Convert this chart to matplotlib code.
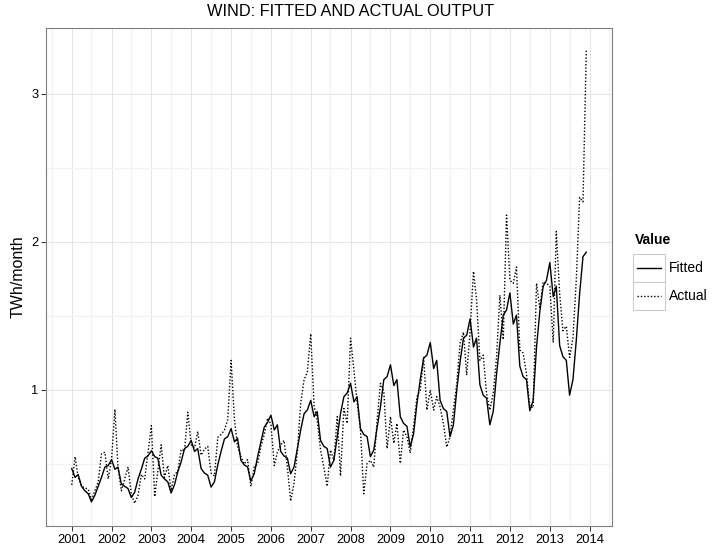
import numpy as np
import pandas as pd
import matplotlib
matplotlib.use('Agg')
import matplotlib.pyplot as plt
import matplotlib.dates as mdates
from matplotlib.ticker import MultipleLocator, FixedLocator
from matplotlib.patches import Rectangle
from matplotlib.lines import Line2D

plt.rcParams['font.family'] = ['Liberation Sans', 'DejaVu Sans']

# monthly wind output, Jan 2001 - Dec 2013 (TWh/month)
months = pd.date_range('2001-01-01', '2013-12-01', freq='MS')

fitted = [
    0.47, 0.41, 0.43, 0.35, 0.32, 0.30, 0.245, 0.29, 0.35, 0.41, 0.48, 0.49,      # 2001
    0.53, 0.465, 0.48, 0.365, 0.35, 0.335, 0.275, 0.31, 0.40, 0.465, 0.54, 0.555,  # 2002
    0.59, 0.55, 0.54, 0.425, 0.40, 0.38, 0.305, 0.36, 0.45, 0.515, 0.605, 0.62,    # 2003
    0.66, 0.585, 0.605, 0.47, 0.44, 0.425, 0.345, 0.38, 0.495, 0.585, 0.67, 0.685, # 2004
    0.74, 0.65, 0.675, 0.525, 0.495, 0.48, 0.385, 0.435, 0.55, 0.65, 0.75, 0.78,   # 2005
    0.83, 0.73, 0.765, 0.585, 0.555, 0.54, 0.435, 0.48, 0.605, 0.73, 0.84, 0.865,  # 2006
    0.93, 0.82, 0.855, 0.66, 0.62, 0.605, 0.48, 0.525, 0.685, 0.84, 0.955, 0.98,   # 2007
    1.045, 0.92, 0.955, 0.74, 0.70, 0.685, 0.55, 0.595, 0.75, 0.885, 1.07, 1.09,   # 2008
    1.17, 1.03, 1.07, 0.82, 0.775, 0.755, 0.615, 0.705, 0.91, 1.07, 1.215, 1.235,  # 2009
    1.32, 1.145, 1.20, 0.93, 0.875, 0.855, 0.685, 0.765, 1.00, 1.19, 1.35, 1.37,   # 2010
    1.48, 1.29, 1.35, 1.035, 0.965, 0.945, 0.765, 0.855, 1.11, 1.315, 1.505, 1.54, # 2011
    1.655, 1.445, 1.505, 1.16, 1.09, 1.07, 0.86, 0.93, 1.29, 1.53, 1.70, 1.74,     # 2012
    1.86, 1.63, 1.70, 1.30, 1.225, 1.20, 0.965, 1.07, 1.34, 1.65, 1.90, 1.93,      # 2013
]

actual = [
    0.36, 0.55, 0.41, 0.35, 0.34, 0.33, 0.26, 0.32, 0.38, 0.57, 0.58, 0.40,
    0.53, 0.87, 0.48, 0.32, 0.40, 0.48, 0.30, 0.235, 0.29, 0.43, 0.40, 0.58,
    0.76, 0.28, 0.45, 0.63, 0.41, 0.49, 0.32, 0.43, 0.45, 0.60, 0.59, 0.85,
    0.63, 0.61, 0.72, 0.56, 0.60, 0.62, 0.44, 0.42, 0.68, 0.70, 0.73, 0.80,
    1.20, 0.80, 0.62, 0.55, 0.50, 0.53, 0.35, 0.48, 0.50, 0.62, 0.70, 0.81,
    0.77, 0.49, 0.58, 0.63, 0.66, 0.48, 0.25, 0.37, 0.59, 0.91, 1.07, 1.12,
    1.38, 0.89, 0.80, 0.595, 0.48, 0.35, 0.595, 0.525, 0.82, 0.42, 0.875, 0.775,
    1.35, 1.135, 0.92, 0.73, 0.30, 0.505, 0.525, 0.48, 0.80, 1.045, 0.99, 0.605,
    0.82, 0.64, 0.775, 0.505, 0.73, 0.685, 0.575, 0.755, 0.955, 1.00, 1.22, 0.865,
    1.00, 0.865, 0.955, 0.885, 0.775, 0.615, 0.685, 0.865, 1.045, 1.315, 1.39, 1.10,
    1.40, 1.80, 1.61, 1.20, 1.235, 0.975, 0.865, 0.975, 1.225, 1.64, 1.34, 2.18,
    1.74, 1.72, 1.83, 1.27, 1.25, 1.11, 0.89, 0.88, 1.72, 1.55, 1.73, 1.72,
    1.70, 1.32, 2.07, 1.65, 1.40, 1.43, 1.22, 1.35, 1.75, 2.30, 2.27, 3.29,
]

series_names = ['Fitted', 'Actual']
series_values = [fitted, actual]
series_dash = ['-', (0, (1, 1.4))]

W, H = 713, 549
fig = plt.figure(figsize=(W / 100, H / 100), dpi=100)

# panel box in pixels: left 46, right 612, top 28, bottom 526
ax = fig.add_axes([46 / W, (H - 526) / H, 566 / W, 498 / H])

for name, vals, ls in zip(series_names, series_values, series_dash):
    ax.plot(months, vals, color='black', lw=1.0, linestyle=ls, label=name)

# ggplot style 5% expansion
xnum = mdates.date2num(months)
xspan = xnum[-1] - xnum[0]
ax.set_xlim(xnum[0] - 0.05 * xspan, xnum[-1] + 0.05 * xspan)
allv = np.array(fitted + actual)
yspan = allv.max() - allv.min()
ax.set_ylim(allv.min() - 0.05 * yspan, allv.max() + 0.05 * yspan)

ax.xaxis.set_major_locator(mdates.YearLocator(1))
ax.xaxis.set_major_formatter(mdates.DateFormatter('%Y'))
ax.xaxis.set_minor_locator(mdates.MonthLocator(bymonth=7))
ax.yaxis.set_major_locator(FixedLocator([1, 2, 3]))
ax.yaxis.set_minor_locator(MultipleLocator(0.5))

ax.grid(which='major', color='#E5E5E5', lw=0.7)
ax.grid(which='minor', color='#F3F3F3', lw=1.0)
ax.set_axisbelow(True)

for s in ax.spines.values():
    s.set_color('#7F7F7F')
    s.set_linewidth(0.8)

ax.tick_params(which='major', direction='out', length=3.5, width=0.7,
               color='#333333', labelsize=9.3, labelcolor='black', pad=2)
ax.tick_params(which='minor', length=0)

fig.text(351 / W, 1 - 12 / H, 'WIND: FITTED AND ACTUAL OUTPUT',
         ha='center', va='center', size=11.8)
fig.text(18 / W, 1 - 277 / H, 'TWh/month', rotation=90,
         ha='center', va='center', size=11.5)

# legend drawn as boxed keys
lg = fig.add_axes([0, 0, 1, 1], facecolor='none')
lg.set_xlim(0, W)
lg.set_ylim(H, 0)
lg.axis('off')
lg.text(635, 240, 'Value', ha='left', va='center', size=10, weight='bold')
key_top, key_h, key_l, key_w = 254, 28, 633, 32
for i, (name, ls) in enumerate(zip(series_names, series_dash)):
    y0 = key_top + i * key_h
    lg.add_patch(Rectangle((key_l, y0), key_w, key_h, facecolor='white',
                           edgecolor='#CCCCCC', lw=0.8))
    lg.add_line(Line2D([key_l + 4, key_l + key_w - 4], [y0 + key_h / 2] * 2,
                       color='black', lw=1.0, linestyle=ls))
    lg.text(key_l + key_w + 4, y0 + key_h / 2, name, ha='left', va='center', size=10)

fig.savefig('out.png', dpi=100)
